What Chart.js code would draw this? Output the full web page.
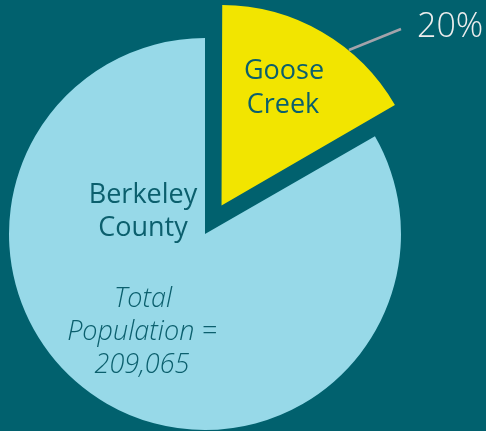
<!DOCTYPE html>
<html>
<head>
<meta charset="utf-8">
<script src="https://cdn.jsdelivr.net/npm/chart.js@4/dist/chart.umd.min.js"></script>
<style>
  html, body { margin: 0; padding: 0; background: #01616e; }
  #wrap { width: 486px; height: 431px; position: relative; }
</style>
</head>
<body>
<div id="wrap"><canvas id="ch1"></canvas></div>
<script>
// data (slice angle ~60deg, label says 20%)
const categories = ['Goose Creek', 'Berkeley County'];
const shares = [16.7, 83.3];
const sliceColors = ['#f2e500', '#97d9e8'];
const pctLabel = '20%';
const totalPop = '209,065';

const ink = '#0b5f6d';
const fontName = '"Open Sans", "Noto Sans", sans-serif';

// labels drawn on top of the pie
const labelPlugin = {
  id: 'labels',
  afterDraw(chart) {
    const ctx = chart.ctx;
    ctx.save();
    ctx.textAlign = 'center';
    ctx.textBaseline = 'alphabetic';
    ctx.fillStyle = ink;
    ctx.font = '400 27px ' + fontName;
    ctx.fillText('Goose', 284, 79);
    ctx.fillText('Creek', 283, 113);
    ctx.fillText('Berkeley', 143, 203);
    ctx.fillText('County', 143, 236);
    ctx.font = 'italic 300 27px ' + fontName;
    ctx.fillText('Total', 143, 307);
    ctx.fillText('Population =', 142, 340);
    ctx.fillText(totalPop, 142, 373);

    // leader line + percent
    ctx.strokeStyle = '#a3a3ab';
    ctx.lineWidth = 2.5;
    ctx.beginPath();
    ctx.moveTo(349, 50);
    ctx.lineTo(401, 29);
    ctx.stroke();
    ctx.fillStyle = '#eeeeee';
    ctx.textAlign = 'left';
    ctx.font = '300 34px ' + fontName;
    ctx.fillText(pctLabel, 417, 37);
    ctx.restore();
  }
};

var ctx = document.getElementById('ch1').getContext('2d');
var myPie = new Chart(ctx, {
  type: 'pie',
  data: {
    labels: categories,
    datasets: [{
      data: shares,
      backgroundColor: sliceColors,
      borderWidth: 0,
      offset: [132, 0],
      hoverOffset: 0
    }]
  },
  options: {
    responsive: true,
    maintainAspectRatio: false,
    animation: false,
    radius: 196,
    layout: { padding: { left: 0, right: 76, top: 37, bottom: 0 } },
    plugins: {
      legend: { display: false },
      tooltip: { enabled: false }
    }
  },
  plugins: [labelPlugin]
});
</script>
</body>
</html>
